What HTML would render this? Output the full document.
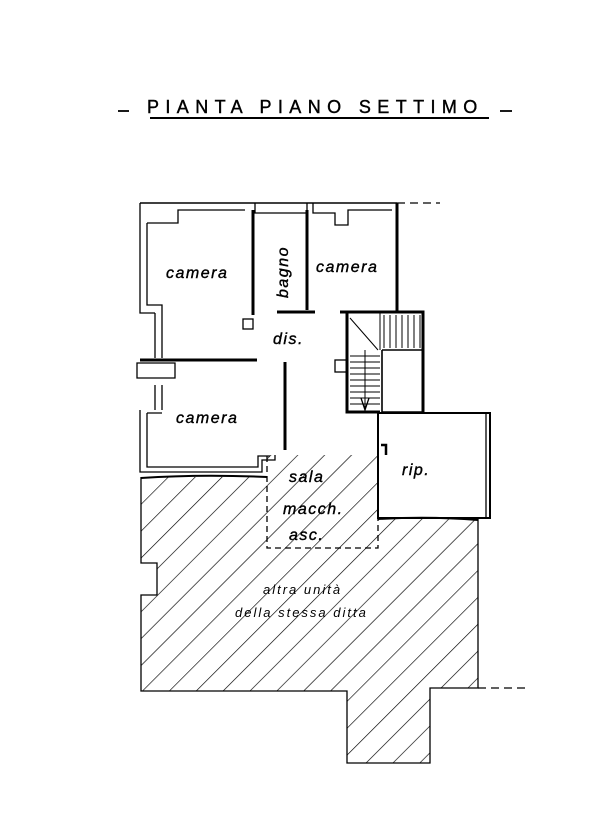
<!DOCTYPE html>
<html><head><meta charset="utf-8"><style>
html,body{margin:0;padding:0;background:#fff;}
svg{display:block;}
text{font-family:"Liberation Sans",sans-serif;fill:#000;}
</style></head><body>
<svg width="616" height="816" viewBox="0 0 616 816" xmlns="http://www.w3.org/2000/svg">
<defs>
<pattern id="h" patternUnits="userSpaceOnUse" width="19" height="19" patternTransform="rotate(45)">
<line x1="0" y1="0" x2="0" y2="19" stroke="#000" stroke-width="1.3"/>
</pattern>
<clipPath id="hc">
<path d="M141,477 L267,477 L267,455 L378,455 L378,519 L478,519 L478,688 L430,688 L430,763 L347,763 L347,691 L141,691 L141,595 L157,595 L157,563 L141,563 Z"/>
</clipPath>
</defs>
<!-- title -->
<text x="147" y="113" font-size="18" letter-spacing="6.4" stroke="#000" stroke-width="0.4">PIANTA PIANO SETTIMO</text>
<line x1="118" y1="111" x2="129" y2="111" stroke="#000" stroke-width="1.8"/>
<line x1="500" y1="111" x2="512" y2="111" stroke="#000" stroke-width="1.8"/>
<line x1="150" y1="118" x2="489" y2="118" stroke="#000" stroke-width="2"/>

<!-- hatch -->
<rect x="130" y="440" width="360" height="330" fill="url(#h)" clip-path="url(#hc)"/>
<g fill="none" stroke="#000" stroke-width="1.3">
<path d="M141,477 L141,563 L157,563 L157,595 L141,595 L141,691 L347,691 L347,763 L430,763 L430,688 L478,688 L478,519"/>
<path d="M141,478 Q200,474 267,477" stroke-width="2"/>
<path d="M378,519 Q430,516 478,520" stroke-width="2"/>
<path d="M478,688 L530,688" stroke-dasharray="8,5"/>
<path d="M267,456 L267,548 L378,548 L378,455" stroke-dasharray="6,4"/>
<!-- rip box -->
<path d="M378,413 L490,413 L490,518 L378,518 Z" stroke-width="2"/>
<path d="M486,413 L486,518"/>
<!-- outer walls -->
<path d="M140,203 L397,203" stroke-width="1.6"/>
<path d="M397,203 L440,203" stroke-dasharray="8,5"/>
<path d="M140,203 L140,313 L155,313"/>
<path d="M147,223 L178,223 L178,210 L245,210"/>
<path d="M147,223 L147,305 L162,305 L162,313"/>
<path d="M155,313 L155,358 M162,313 L162,358"/>
<path d="M137,363 L175,363 L175,378 L137,378 Z"/>
<path d="M155,385 L155,410 M162,385 L162,410"/>
<path d="M140,410 L140,472 L262,472 L262,460 L275,460 L275,455"/>
<path d="M147,413 L162,413 M147,413 L147,467 L258,467 L258,456 L270,456"/>
<path d="M255,203 L255,213 L307,213 L307,203 M313,203 L313,213 L335,213 L335,225 L348,225 L348,210 L392,210"/>
</g>
<g stroke="#000" fill="none">
<path d="M253,210 L253,315" stroke-width="3"/>
<path d="M307,210 L307,310" stroke-width="3"/>
<path d="M277,312 L315,312" stroke-width="3"/>
<path d="M140,360 L257,360" stroke-width="3"/>
<path d="M285,362 L285,450" stroke-width="3"/>
<path d="M397,203 L397,312" stroke-width="3"/>
<path d="M340,312 L423,312 L423,412" stroke-width="3"/>
<path d="M347,312 L347,412 L380,412" stroke-width="3"/>
<path d="M382,350 L423,350 M382,350 L382,412 L423,412" stroke-width="1.6"/>
<path d="M380,312 L380,350" stroke-width="1"/>
<path d="M350,318 L378,350 M365,350 L365,408" stroke-width="1"/>
<path d="M384,315 L384,348 M390,315 L390,348 M396,315 L396,348 M402,315 L402,348 M408,315 L408,348 M414,315 L414,348 M420,315 L420,348" stroke-width="1"/>
<path d="M350,356 L380,356 M350,362 L380,362 M350,368 L380,368 M350,374 L380,374 M350,380 L380,380 M350,386 L380,386 M350,392 L380,392 M350,398 L380,398 M350,404 L380,404" stroke-width="1"/>
<path d="M361,398 L365,410 L369,398" stroke-width="1.3"/>
<rect x="335" y="360" width="12" height="12" stroke-width="1.3"/>
<rect x="243" y="319" width="10" height="10" stroke-width="1.3"/>
<path d="M381,445 L386,445 L386,455" stroke-width="2.5"/>
</g>
<!-- labels -->
<g font-style="italic" font-size="16" letter-spacing="1.5" stroke="#000" stroke-width="0.4">
<text x="166" y="278">camera</text>
<text x="316" y="272">camera</text>
<text x="176" y="423">camera</text>
<text x="273" y="344">dis.</text>
<text x="402" y="475">rip.</text>
<text x="289" y="482">sala</text>
<text x="283" y="514">macch.</text>
<text x="289" y="540">asc.</text>
<text transform="translate(288,298) rotate(-90)">bagno</text>
</g>
<g font-style="italic" font-size="13" letter-spacing="2">
<text x="263" y="594">altra unità</text>
<text x="235" y="617">della stessa ditta</text>
</g>
</svg>
</body></html>
